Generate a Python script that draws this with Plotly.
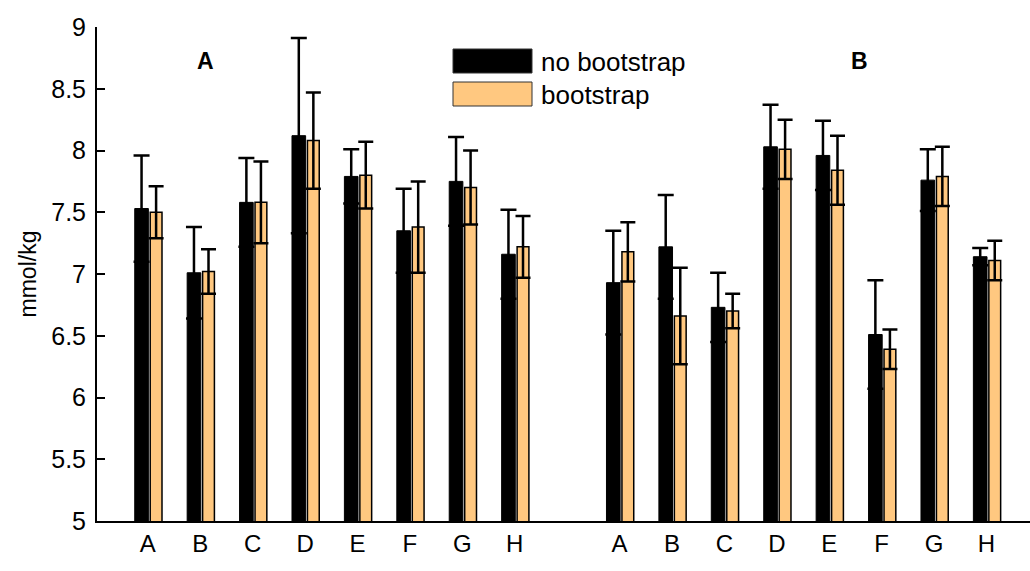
import numpy as np
import plotly.graph_objects as go

# Sample labels (same set in both panels)
categories = ["A", "B", "C", "D", "E", "F", "G", "H"]

# Panel A: means and error half-widths (mmol/kg)
panel_a_noboot = [7.53, 7.01, 7.58, 8.12, 7.79, 7.35, 7.75, 7.16]
panel_a_noboot_err = [0.43, 0.37, 0.36, 0.79, 0.22, 0.34, 0.36, 0.36]
panel_a_boot = [7.50, 7.02, 7.58, 8.08, 7.80, 7.38, 7.70, 7.22]
panel_a_boot_err = [0.21, 0.18, 0.33, 0.39, 0.27, 0.37, 0.30, 0.25]

# Panel B: means and error half-widths (mmol/kg)
panel_b_noboot = [6.93, 7.22, 6.73, 8.03, 7.96, 6.51, 7.76, 7.14]
panel_b_noboot_err = [0.42, 0.42, 0.28, 0.34, 0.28, 0.44, 0.25, 0.07]
panel_b_boot = [7.18, 6.66, 6.70, 8.01, 7.84, 6.39, 7.79, 7.11]
panel_b_boot_err = [0.24, 0.39, 0.14, 0.24, 0.28, 0.16, 0.24, 0.16]

y_ticks = [5, 5.5, 6, 6.5, 7, 7.5, 8, 8.5, 9]

BLACK = "#000000"
ORANGE = "#FFC880"
FONT = "Liberation Sans, Arial, sans-serif"

# Panel A sits at slots 1..8, panel B at 10..17 (one empty slot between)
pos_a = np.arange(1, len(categories) + 1)
pos_b = pos_a + len(categories) + 1
positions = np.concatenate([pos_a, pos_b])

noboot = panel_a_noboot + panel_b_noboot
noboot_err = panel_a_noboot_err + panel_b_noboot_err
boot = panel_a_boot + panel_b_boot
boot_err = panel_a_boot_err + panel_b_boot_err

fig = go.Figure()
fig.add_trace(go.Bar(
    x=positions, y=noboot, name="no bootstrap",
    offset=-0.25, width=0.26,
    marker=dict(color=BLACK, line=dict(color=BLACK, width=1)),
    error_y=dict(type="data", array=noboot_err, symmetric=True,
                 color=BLACK, thickness=2.5, width=8),
))
fig.add_trace(go.Bar(
    x=positions, y=boot, name="bootstrap",
    offset=0.045, width=0.225,
    marker=dict(color=ORANGE, line=dict(color=BLACK, width=1.5)),
    error_y=dict(type="data", array=boot_err, symmetric=True,
                 color=BLACK, thickness=2.5, width=7.5),
))

# Plot-area geometry in pixels, used to place the legend swatches and labels
L, R, T, B = 97, 0, 27, 50
W, H = 1030, 571
pw, ph = W - L - R, H - T - B


def px(x):
    return (x - L) / pw


def py(y):
    return (H - B - y) / ph


shapes = [
    dict(type="rect", xref="paper", yref="paper",
         x0=px(453), x1=px(532), y0=py(73), y1=py(49),
         fillcolor=BLACK, line=dict(color="#333333", width=1)),
    dict(type="rect", xref="paper", yref="paper",
         x0=px(453), x1=px(532), y0=py(106), y1=py(82),
         fillcolor=ORANGE, line=dict(color="#333333", width=1)),
]

annotations = [
    dict(text="no bootstrap", x=px(539), y=py(62), xref="paper", yref="paper",
         xanchor="left", yanchor="middle", showarrow=False,
         font=dict(family=FONT, size=26, color=BLACK)),
    dict(text="bootstrap", x=px(539), y=py(95), xref="paper", yref="paper",
         xanchor="left", yanchor="middle", showarrow=False,
         font=dict(family=FONT, size=26, color=BLACK)),
    dict(text="<b>A</b>", x=px(205), y=py(61), xref="paper", yref="paper",
         xanchor="center", yanchor="middle", showarrow=False,
         font=dict(family=FONT, size=23, color=BLACK)),
    dict(text="<b>B</b>", x=px(859), y=py(61), xref="paper", yref="paper",
         xanchor="center", yanchor="middle", showarrow=False,
         font=dict(family=FONT, size=23, color=BLACK)),
]

fig.update_layout(
    width=W, height=H,
    margin=dict(l=L, r=R, t=T, b=B, pad=0, autoexpand=False),
    paper_bgcolor="white", plot_bgcolor="white",
    barmode="group", showlegend=False,
    font=dict(family=FONT, size=24, color=BLACK),
    shapes=shapes, annotations=annotations,
    xaxis=dict(
        range=[0.03, 17.83],
        tickmode="array",
        tickvals=list(positions), ticktext=categories + categories,
        showline=True, linecolor=BLACK, linewidth=2,
        ticks="", showgrid=False, zeroline=False,
        automargin=False,
        tickfont=dict(family=FONT, size=24, color=BLACK),
    ),
    yaxis=dict(
        range=[5, 9], tickmode="array", tickvals=y_ticks,
        ticktext=[f"{v:g}" for v in y_ticks],
        showline=True, linecolor=BLACK, linewidth=2,
        ticks="inside", ticklen=8, tickwidth=2, tickcolor=BLACK,
        showgrid=False, zeroline=False,
        automargin=False, ticklabelstandoff=4,
        tickfont=dict(family=FONT, size=25, color=BLACK),
        title=dict(text="mmol/kg", font=dict(size=23), standoff=8),
    ),
)

fig.write_html("out.html")
